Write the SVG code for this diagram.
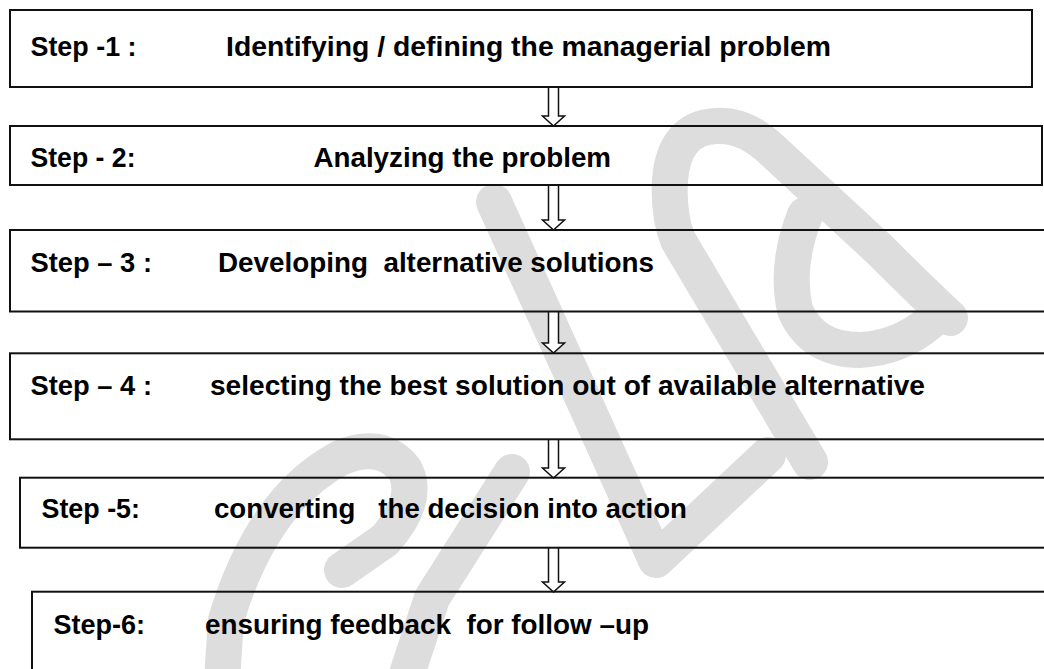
<svg xmlns="http://www.w3.org/2000/svg" width="1044" height="669" viewBox="0 0 1044 669">
  <style>
    .box { fill: none; stroke: #111; stroke-width: 2; }
    .arrow { fill: #fff; stroke: #111; stroke-width: 1.5; stroke-linejoin: miter; }
    .wm { fill: none; stroke: #dddddd; stroke-width: 36; stroke-linecap: round; stroke-linejoin: round; }
    .lbl { font-family: "Liberation Sans", Arial, sans-serif; font-weight: bold; font-size: 27px; fill: #000; white-space: pre; }
  </style>

  <rect width="1044" height="669" fill="#fff"/>

  <!-- faint background logo -->
  <g id="watermark">
    <path class="wm" d="M 810 462 L 678 240 Q 668 215 670 180 Q 674 128 716 126 Q 745 124 772 150 L 880 250 Q 920 290 950 318"/>
    <path class="wm" stroke-width="32" d="M 805 215 Q 785 265 795 310 Q 812 350 860 350 Q 900 348 930 322"/>
    <path class="wm" stroke-width="40" d="M 494 202 L 656 560 L 768 455"/>
    <path class="wm" d="M 222 680 L 226 620 Q 262 500 340 458 Q 382 440 405 470 Q 420 500 385 540 L 342 570"/>
    <path class="wm" d="M 512 472 L 432 598 L 405 680"/>
  </g>

  <!-- connectors: hollow block arrows between steps -->
  <g id="connectors">
    <path class="arrow" d="M 548.5 87 L 548.5 116 L 542.5 116 L 553.5 126 L 564.5 116 L 558.5 116 L 558.5 87"/>
    <path class="arrow" d="M 548.5 185 L 548.5 220 L 542.5 220 L 553.5 230 L 564.5 220 L 558.5 220 L 558.5 185"/>
    <path class="arrow" d="M 548.5 311 L 548.5 343 L 542.5 343 L 553.5 353 L 564.5 343 L 558.5 343 L 558.5 311"/>
    <path class="arrow" d="M 548.5 439 L 548.5 468 L 542.5 468 L 553.5 478 L 564.5 468 L 558.5 468 L 558.5 439"/>
    <path class="arrow" d="M 548.5 547.5 L 548.5 582 L 542.5 582 L 553.5 592 L 564.5 582 L 558.5 582 L 558.5 547.5"/>
  </g>

  <g id="step1">
    <rect class="box" x="10" y="10" width="1022" height="77"/>
    <text class="lbl" x="30.5" y="55.5" textLength="106" lengthAdjust="spacingAndGlyphs">Step -1 :</text>
    <text class="lbl" x="226" y="55.5" textLength="605" lengthAdjust="spacingAndGlyphs">Identifying / defining the managerial problem</text>
  </g>

  <g id="step2">
    <rect class="box" x="10" y="126" width="1032" height="59"/>
    <text class="lbl" x="30.5" y="166.5" textLength="105" lengthAdjust="spacingAndGlyphs">Step - 2:</text>
    <text class="lbl" x="313.5" y="166.5" textLength="297.5" lengthAdjust="spacingAndGlyphs">Analyzing the problem</text>
  </g>

  <g id="step3">
    <rect class="box" x="10" y="230" width="1050" height="81.5"/>
    <text class="lbl" x="30.5" y="271.5" textLength="121.5" lengthAdjust="spacingAndGlyphs">Step – 3 :</text>
    <text class="lbl" x="218" y="271.5" textLength="436" lengthAdjust="spacingAndGlyphs">Developing  alternative solutions</text>
  </g>

  <g id="step4">
    <rect class="box" x="10" y="353.3" width="1050" height="86"/>
    <text class="lbl" x="30.5" y="395" textLength="121.5" lengthAdjust="spacingAndGlyphs">Step – 4 :</text>
    <text class="lbl" x="210" y="395" textLength="715" lengthAdjust="spacingAndGlyphs">selecting the best solution out of available alternative</text>
  </g>

  <g id="step5">
    <rect class="box" x="20" y="477.7" width="1040" height="70"/>
    <text class="lbl" x="41.5" y="518" textLength="98.5" lengthAdjust="spacingAndGlyphs">Step -5:</text>
    <text class="lbl" x="214" y="518" textLength="473" lengthAdjust="spacingAndGlyphs">converting   the decision into action</text>
  </g>

  <g id="step6">
    <rect class="box" x="32" y="591.7" width="1030" height="100"/>
    <text class="lbl" x="53.5" y="633.5" textLength="91.5" lengthAdjust="spacingAndGlyphs">Step-6:</text>
    <text class="lbl" x="205" y="633.5" textLength="444" lengthAdjust="spacingAndGlyphs">ensuring feedback  for follow –up</text>
  </g>
</svg>
